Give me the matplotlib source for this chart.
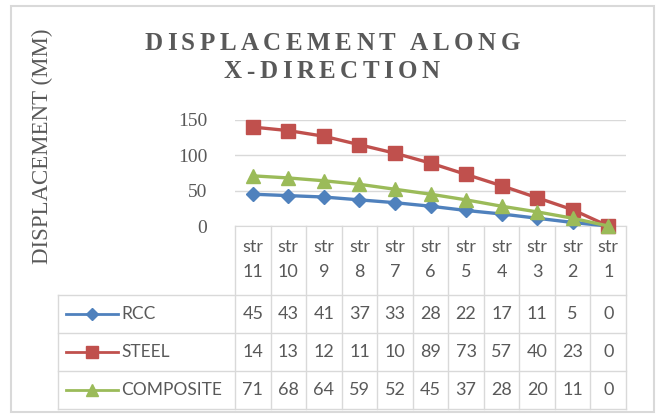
import matplotlib
matplotlib.use("Agg")
import matplotlib.pyplot as plt
from matplotlib.lines import Line2D
from matplotlib.patches import Rectangle

# ---- data -------------------------------------------------------------
storeys = ["str\n11", "str\n10", "str\n9", "str\n8", "str\n7", "str\n6",
           "str\n5", "str\n4", "str\n3", "str\n2", "str\n1"]
rcc = [45, 43, 41, 37, 33, 28, 22, 17, 11, 5, 0]
steel = [140, 135, 127, 115, 103, 89, 73, 57, 40, 23, 0]
composite = [71, 68, 64, 59, 52, 45, 37, 28, 20, 11, 0]
series_names = ["RCC", "STEEL", "COMPOSITE"]
y_ticks = [0, 50, 100, 150]

# ---- style ------------------------------------------------------------
colors = ["#4F81BD", "#C0504D", "#9BBB59"]
markers = ["D", "s", "^"]
msizes = [7.5, 10, 10]
text_col = "#595959"
grid_col = "#D9D9D9"
serif = ["Liberation Serif", "DejaVu Serif"]
sans = ["Lato", "DejaVu Sans"]

W, H = 657, 419
fig = plt.figure(figsize=(W / 100, H / 100), dpi=100)


def fx(px):
    return px / W


def fy(py):
    return 1 - py / H


# plot area (pixel geometry)
PL, PR, PT, PB = 235, 626, 120, 226
ax = fig.add_axes([fx(PL), fy(PB), (PR - PL) / W, (PB - PT) / H])
x = list(range(len(storeys)))
for vals, c, m, ms in zip([rcc, steel, composite], colors, markers, msizes):
    ax.plot(x, vals, color=c, lw=2.4, marker=m, ms=ms, mec=c, mfc=c,
            clip_on=False, zorder=3)
ax.set_xlim(-0.5, len(storeys) - 0.5)
ax.set_ylim(0, 150)
ax.set_yticks(y_ticks)
ax.set_yticklabels([str(t) for t in y_ticks], family=serif, fontsize=14,
                   color=text_col)
ax.set_xticks([])
ax.tick_params(axis="y", length=0, pad=20)
ax.grid(axis="y", color=grid_col, lw=1)
ax.set_axisbelow(True)
for s in ["top", "right", "left"]:
    ax.spines[s].set_visible(False)
ax.spines["bottom"].set_color(grid_col)
ax.patch.set_alpha(0)

# overlay axes in pixel coordinates for table, border and titles
ov = fig.add_axes([0, 0, 1, 1], zorder=-1)
ov.set_xlim(0, W)
ov.set_ylim(H, 0)
ov.axis("off")

# chart border
ov.add_patch(Rectangle((11, 6), 643, 406, fill=False, ec="#D9D9D9", lw=1.5))

# data table
n = len(storeys)
cw = (PR - PL) / n
col_edges = [PL + i * cw for i in range(n + 1)]
row_edges = [295, 333, 371, 409]
TL = 58
for xe in col_edges:
    ov.plot([xe, xe], [PB, row_edges[-1]], color=grid_col, lw=1)
for ye in row_edges:
    ov.plot([TL, PR], [ye, ye], color=grid_col, lw=1)
ov.plot([TL, TL], [row_edges[0], row_edges[-1]], color=grid_col, lw=1)

FS = 13
for i, lab in enumerate(storeys):
    cx = PL + (i + 0.5) * cw
    top, bot = lab.split("\n")
    ov.text(cx, 247, top, ha="center", va="center", fontsize=FS,
            family=sans, color=text_col)
    ov.text(cx, 272, bot, ha="center", va="center", fontsize=FS,
            family=sans, color=text_col)


def cell_text(v, width_chars=2):
    # cells are narrow: the text is clipped to what fits in the column
    return str(v)[:width_chars]


for r, (name, vals, c, m, ms) in enumerate(
        zip(series_names, [rcc, steel, composite], colors, markers, msizes)):
    cy = (row_edges[r] + row_edges[r + 1]) / 2
    ov.add_line(Line2D([66, 118], [cy, cy], color=c, lw=2))
    ov.add_line(Line2D([92], [cy], marker=m, ms=ms * 0.85, color=c, mec=c))
    ov.text(121, cy, name, ha="left", va="center", fontsize=FS - 0.5,
            family=sans, color=text_col)
    for i, v in enumerate(vals):
        cx = PL + (i + 0.5) * cw
        ov.text(cx, cy, cell_text(v), ha="center", va="center",
                fontsize=FS, family=sans, color=text_col)


# title with letter spacing
def tracked(s, xc, yc, size, track):
    renderer = fig.canvas.get_renderer()
    widths = []
    for ch in s:
        t = ov.text(0, 0, ch if ch != " " else "I", fontsize=size,
                    family=serif, weight="bold")
        bb = t.get_window_extent(renderer)
        widths.append(bb.width * (0.6 if ch == " " else 1.0))
        t.remove()
    total = sum(widths) + track * (len(s) - 1)
    xpos = xc - total / 2
    for ch, w in zip(s, widths):
        if ch != " ":
            ov.text(xpos + w / 2, yc, ch, ha="center", va="center",
                    fontsize=size, family=serif, weight="bold",
                    color=text_col)
        xpos += w + track


tracked("DISPLACEMENT ALONG", 332, 44, 18, 4.5)
tracked("X-DIRECTION", 332, 72, 18, 4.5)

# y-axis title
ov.text(42, 146, "DISPLACEMENT (MM)", rotation=90, ha="center",
        va="center", fontsize=16.5, family=serif, color=text_col)

fig.savefig("out.png", dpi=100)
